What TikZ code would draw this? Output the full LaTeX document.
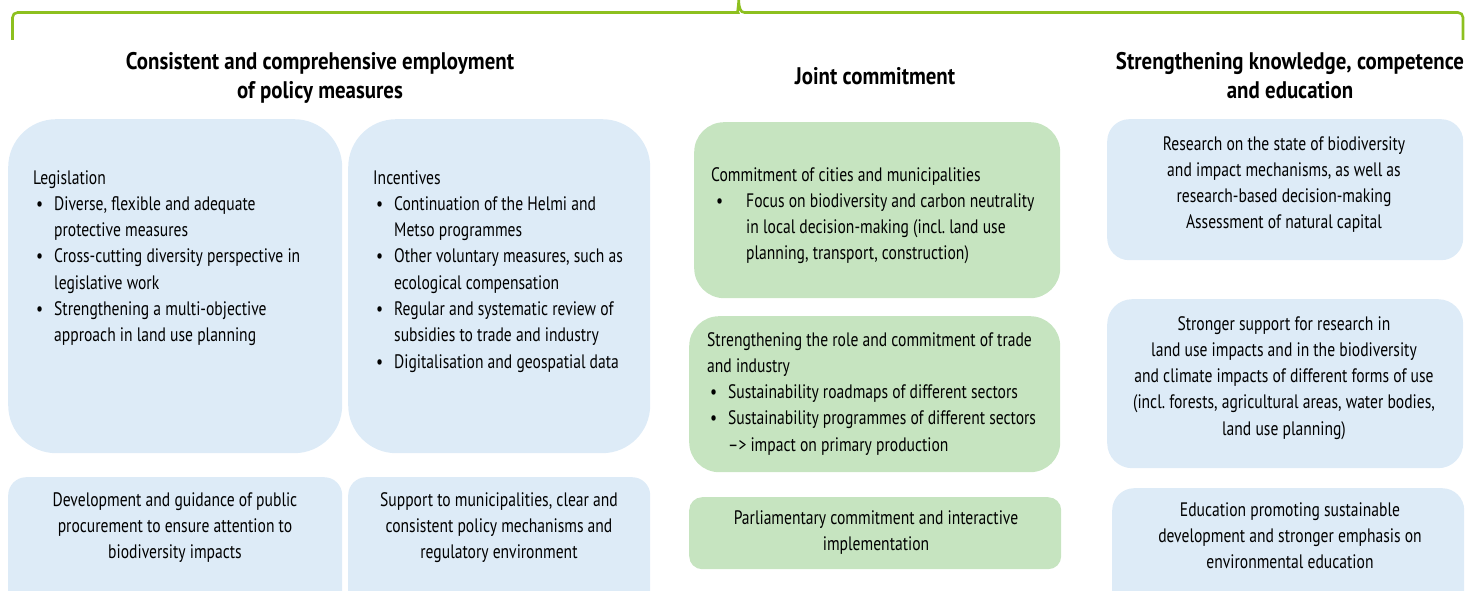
\documentclass[tikz,border=0pt]{standalone}
\usepackage{fontspec}
\setmainfont{PT Sans}[FakeStretch=0.8]
\newfontfamily\headfont{PT Sans}[FakeStretch=0.87]
\frenchspacing
\definecolor{boxblue}{RGB}{221,235,247}
\definecolor{boxgreen}{RGB}{198,228,192}
\definecolor{bracegreen}{RGB}{141,192,31}
\newcommand{\bl}[1]{\makebox[21pt][l]{\hspace{3pt}\textbullet}#1}
\newcommand{\ct}[1]{\hspace*{21pt}#1}
\newcommand{\blw}[1]{\makebox[35pt][l]{\hspace{5pt}\textbullet}#1}
\newcommand{\ctw}[1]{\hspace*{35pt}#1}
\tikzset{
  bx/.style={draw=none, rectangle, anchor=north west, inner sep=0pt},
  bluebox/.style={bx, fill=boxblue},
  greenbox/.style={bx, fill=boxgreen},
  body/.style={inner sep=0pt, font=\fontsize{19.5}{26.3}\selectfont, text=black},
  lbody/.style={body, align=left, anchor=north west},
  cbody/.style={body, align=center, anchor=north},
  head/.style={inner sep=0pt, font=\fontsize{24}{29}\selectfont\headfont\bfseries, align=center, anchor=north},
  brace/.style={draw=bracegreen, line width=2.6pt}
}
\begin{document}
\begin{tikzpicture}[x=1pt, y=-1pt]
\useasboundingbox (0,0) rectangle (1465,591);
\clip (0,0) rectangle (1465,591);
% brace
\draw[brace] (12.5,40) [rounded corners=5pt] -- (12.5,12.5) -- (733,12.5) [sharp corners]
  .. controls (737,12.5) and (738.4,8) .. (738.7,0)
  .. controls (739,8) and (740.4,12.5) .. (744.5,12.5)
  [rounded corners=5pt] -- (1463,12.5) -- (1463,40);
% headings
\node[head] (h1) at (320,52) {Consistent and comprehensive employment\\of policy measures};
\node[head] (h2) at (875,67) {Joint commitment};
\node[head] (h3) at (1290,52) {Strengthening knowledge, competence\\and education};
% left column boxes
\node[bluebox, rounded corners=48pt, minimum width=334pt, minimum height=334pt] (legbox) at (8,119) {};
\node[bluebox, rounded corners=48pt, minimum width=302pt, minimum height=334pt] (incbox) at (348,119) {};
\node[bluebox, rounded corners=18pt, minimum width=334pt, minimum height=140pt] (procbox) at (8,477) {};
\node[bluebox, rounded corners=18pt, minimum width=302pt, minimum height=140pt] (supbox) at (348,477) {};
% middle column boxes
\node[greenbox, rounded corners=30pt, minimum width=366pt, minimum height=176pt] (citbox) at (694,122) {};
\node[greenbox, rounded corners=30pt, minimum width=371pt, minimum height=156pt] (tradebox) at (689,316) {};
\node[greenbox, rounded corners=13pt, minimum width=372pt, minimum height=72pt] (parbox) at (689,497) {};
% right column boxes
\node[bluebox, rounded corners=22pt, minimum width=356pt, minimum height=141pt] (resbox) at (1107,119) {};
\node[bluebox, rounded corners=25pt, minimum width=356pt, minimum height=169pt] (supresbox) at (1107,299) {};
\node[bluebox, rounded corners=22pt, minimum width=352pt, minimum height=140pt] (edubox) at (1112,488) {};
% texts
\node[lbody] (legtext) at (33,170) {Legislation\\
\bl{Diverse, flexible and adequate}\\
\ct{protective measures}\\
\bl{Cross-cutting diversity perspective in}\\
\ct{legislative work}\\
\bl{Strengthening a multi-objective}\\
\ct{approach in land use planning}};
\node[lbody] (inctext) at (373,170) {Incentives\\
\bl{Continuation of the Helmi and}\\
\ct{Metso programmes}\\
\bl{Other voluntary measures, such as}\\
\ct{ecological compensation}\\
\bl{Regular and systematic review of}\\
\ct{subsidies to trade and industry}\\
\bl{Digitalisation and geospatial data}};
\node[cbody] (proctext) at (175,492) {Development and guidance of public\\procurement to ensure attention to\\biodiversity impacts};
\node[cbody] (suptext) at (499,492) {Support to municipalities, clear and\\consistent policy mechanisms and\\regulatory environment};
\node[lbody] (cittext) at (711,167) {Commitment of cities and municipalities\\
\blw{Focus on biodiversity and carbon neutrality}\\
\ctw{in local decision-making (incl. land use}\\
\ctw{planning, transport, construction)}};
\node[lbody] (tradetext) at (707,332) {Strengthening the role and commitment of trade\\
and industry\\
\bl{Sustainability roadmaps of different sectors}\\
\bl{Sustainability programmes of different sectors}\\
\ct{--> impact on primary production}};
\node[cbody] (partext) at (876,510) {Parliamentary commitment and interactive\\implementation};
\node[cbody] (restext) at (1284,136) {Research on the state of biodiversity\\and impact mechanisms, as well as\\research-based decision-making\\Assessment of natural capital};
\node[cbody] (suprestext) at (1284,316) {Stronger support for research in\\land use impacts and in the biodiversity\\and climate impacts of different forms of use\\(incl. forests, agricultural areas, water bodies,\\land use planning)};
\node[cbody] (edutext) at (1290,502) {Education promoting sustainable\\development and stronger emphasis on\\environmental education};
\end{tikzpicture}
\end{document}
